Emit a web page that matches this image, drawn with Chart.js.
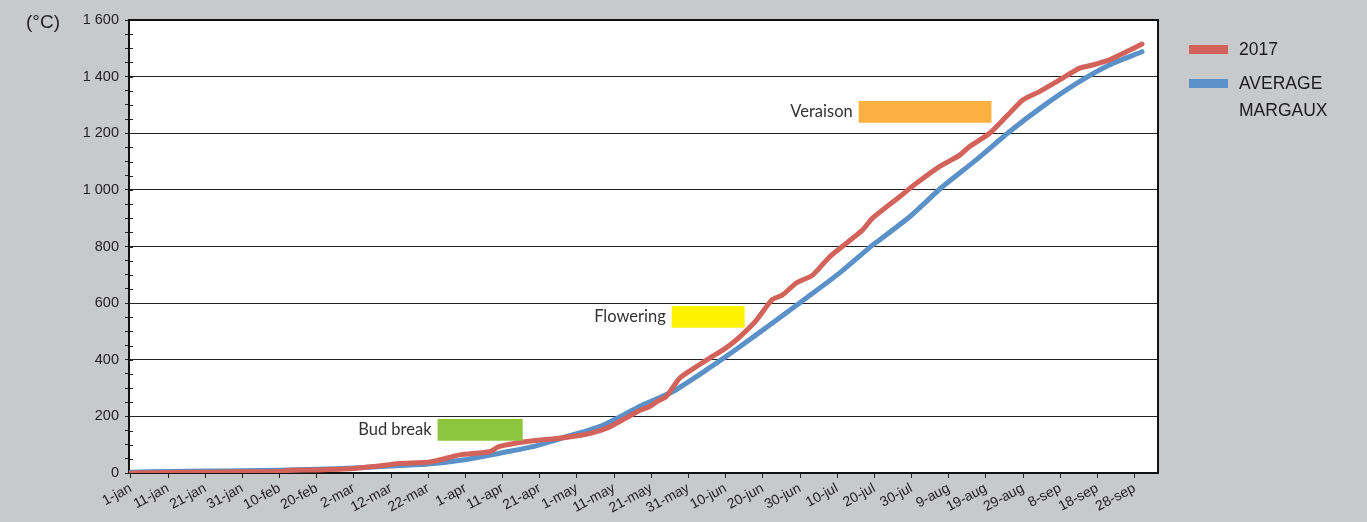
<!DOCTYPE html>
<html>
<head>
<meta charset="utf-8">
<script src="https://cdn.jsdelivr.net/npm/chart.js@4/dist/chart.umd.min.js"></script>
<style>
  body { margin: 0; background: #c8c9cb; }
  #wrap { position: relative; width: 1367px; height: 522px; }
  #unit { position: absolute; left: 26px; top: 11px; font: 19px "Liberation Sans", Arial, sans-serif; color: #231f20; }
  .leg { position: absolute; left: 1189px; font: 17.5px "Liberation Sans", Arial, sans-serif; color: #1e1b1c; }
  .leg span.sw { position: absolute; left: 0; width: 39px; height: 9px; }
  .leg span.tx { position: absolute; left: 50px; white-space: nowrap; line-height: 27px; }
</style>
</head>
<body>
<div id="wrap">
  <canvas id="growth" width="1367" height="522"></canvas>
  <div id="unit">(°C)</div>
  <div class="leg" style="top:45px"><span class="sw" style="background:#d3625b"></span><span class="tx" style="top:-9px">2017</span></div>
  <div class="leg" style="top:79px"><span class="sw" style="background:#5a91c8"></span><span class="tx" style="top:-9px">AVERAGE<br>MARGAUX</span></div>
</div>
<script>
// x = day of year (0 = 1 jan), y = cumulated degrees
var tickDays = [0, 10, 20, 30, 40, 50, 60, 70, 80, 90, 100, 110, 120, 130, 140, 150, 160, 170, 180, 190, 200, 210, 220, 230, 240, 250, 260, 270];
var tickLabels = ['1-jan', '11-jan', '21-jan', '31-jan', '10-feb', '20-feb', '2-mar', '12-mar', '22-mar', '1-apr', '11-apr', '21-apr', '1-may', '11-may', '21-may', '31-may', '10-jun', '20-jun', '30-jun', '10-jul', '20-jul', '30-jul', '9-aug', '19-aug', '29-aug', '8-sep', '18-sep', '28-sep'];

var days2017 = [0, 10, 20, 30, 40, 43, 50, 60, 70, 72, 80, 83, 88.5, 96.5, 99, 106.5, 114.5, 121.5, 128, 133, 137, 139.5, 141.5, 144, 147.6, 152, 155.7, 160, 163.8, 168.3, 172.4, 175.3, 179, 183.4, 188, 192.5, 196.8, 199.5, 206.8, 211.3, 217.5, 223, 225.6, 231, 235.5, 240, 244.4, 249.8, 255.2, 258.7, 263.2, 267.8, 272];
var values2017 = [0, 2, 3, 4, 5, 10, 11, 16, 30, 34, 38, 46, 64, 75, 93, 111, 122, 134, 158, 193, 222, 234, 252, 270, 335, 375, 406, 441, 481, 540, 611, 629, 671, 699, 764, 812, 858, 900, 976, 1023, 1082, 1123, 1153, 1200, 1259, 1318, 1347, 1388, 1430, 1441, 1459, 1488, 1515];

var daysAvg = [0, 10, 20, 30, 40, 50, 60, 70, 80, 90.3, 99.2, 108.1, 117.2, 126.1, 133.4, 136.9, 145.7, 154.8, 163.8, 172.6, 181.7, 190.6, 199.5, 201.4, 209.5, 218.3, 227.4, 236.4, 245.2, 254.4, 263.2, 272];
var valuesAvg = [3, 5, 7, 8, 10, 13, 18, 25, 32, 48, 70, 93, 128, 164, 211, 236, 287, 364, 446, 530, 618, 706, 805, 823, 905, 1011, 1106, 1206, 1294, 1376, 1441, 1488];

var stageNames = ['Bud break', 'Flowering', 'Veraison'];
var stageStart = [82.5, 145.5, 195.8];
var stageEnd = [105.4, 165.1, 231.5];
var stageLow = [114, 513, 1237];
var stageHigh = [191, 590, 1314];
var stageColors = ['#8cc63f', '#fff200', '#fbb040'];

function toPoints(xs, ys) {
    return xs.map(function(x, i) { return {x: x, y: ys[i]}; });
}

function spaced(v) {
    return String(v).replace(/\B(?=(\d{3})+(?!\d))/g, ' ');
}

var framePlugin = {
    id: 'frame',
    beforeDraw: function(chart) {
        var a = chart.chartArea, c = chart.ctx;
        c.save();
        c.fillStyle = '#ffffff';
        c.fillRect(a.left, a.top, a.right - a.left, a.bottom - a.top);
        c.restore();
    },
    afterDatasetsDraw: function(chart) {
        var c = chart.ctx, xs = chart.scales.x, ys = chart.scales.y;
        c.save();
        for (var i = 0; i < stageNames.length; i++) {
            var x0 = xs.getPixelForValue(stageStart[i]);
            var x1 = xs.getPixelForValue(stageEnd[i]);
            var y0 = ys.getPixelForValue(stageHigh[i]);
            var y1 = ys.getPixelForValue(stageLow[i]);
            c.fillStyle = stageColors[i];
            c.fillRect(x0, y0, x1 - x0, y1 - y0);
            c.fillStyle = '#333333';
            c.font = '16.5px Lato, "Noto Sans", sans-serif';
            c.textAlign = 'right';
            c.textBaseline = 'middle';
            c.fillText(stageNames[i], x0 - 6, (y0 + y1) / 2);
        }
        var a = chart.chartArea;
        // small ticks crossing into the plot, as on the original axis
        c.strokeStyle = '#222222';
        c.lineWidth = 1;
        ys.ticks.forEach(function(t) {
            var y = Math.round(ys.getPixelForValue(t.value)) + 0.5;
            c.beginPath();
            c.moveTo(a.left, y);
            c.lineTo(a.left + 4, y);
            c.stroke();
        });
        c.strokeStyle = '#111111';
        c.lineWidth = 2;
        c.beginPath();
        c.moveTo(a.left, a.top);
        c.lineTo(a.right, a.top);
        c.lineTo(a.right, a.bottom);
        c.stroke();
        c.restore();
    }
};

var tickFont = {family: '"Liberation Sans", Arial, sans-serif', size: 14};

new Chart(document.getElementById('growth').getContext('2d'), {
    type: 'line',
    data: {
        datasets: [{
            label: '2017',
            data: toPoints(days2017, values2017),
            borderColor: '#d3625b',
            borderWidth: 5,
            pointRadius: 0,
            tension: 0.2,
            borderCapStyle: 'round'
        },
        {
            label: 'AVERAGE MARGAUX',
            data: toPoints(daysAvg, valuesAvg),
            borderColor: '#5a91c8',
            borderWidth: 5,
            pointRadius: 0,
            tension: 0.2,
            borderCapStyle: 'round'
        }]
    },
    options: {
        responsive: false,
        animation: false,
        layout: {padding: {top: 20, right: 209, left: 0, bottom: 0}},
        plugins: {legend: {display: false}, tooltip: {enabled: false}},
        scales: {
            x: {
                type: 'linear',
                min: -0.5,
                max: 276.3,
                afterBuildTicks: function(scale) {
                    scale.ticks = tickDays.map(function(d) { return {value: d}; });
                },
                afterFit: function(scale) { scale.height = 49; },
                ticks: {
                    autoSkip: false,
                    minRotation: 28,
                    maxRotation: 28,
                    padding: 2,
                    color: '#231f20',
                    font: tickFont,
                    callback: function(v) {
                        var i = tickDays.indexOf(v);
                        return i < 0 ? '' : tickLabels[i];
                    }
                },
                grid: {drawOnChartArea: false, tickLength: 5, tickColor: '#222222'},
                border: {color: '#111111', width: 2}
            },
            y: {
                min: 0,
                max: 1600,
                afterFit: function(scale) { scale.width = 129; },
                ticks: {
                    stepSize: 50,
                    autoSkip: false,
                    padding: 6,
                    color: '#231f20',
                    font: {family: '"Liberation Sans", Arial, sans-serif', size: 14.5},
                    callback: function(v) { return v % 200 === 0 ? spaced(v) : ''; }
                },
                grid: {
                    color: function(ctx) { return ctx.tick && ctx.tick.value % 200 === 0 ? '#222222' : 'rgba(0,0,0,0)'; },
                    tickColor: '#222222',
                    tickLength: 4,
                    lineWidth: 1
                },
                border: {color: '#111111', width: 2}
            }
        }
    },
    plugins: [framePlugin]
});
</script>
</body>
</html>
